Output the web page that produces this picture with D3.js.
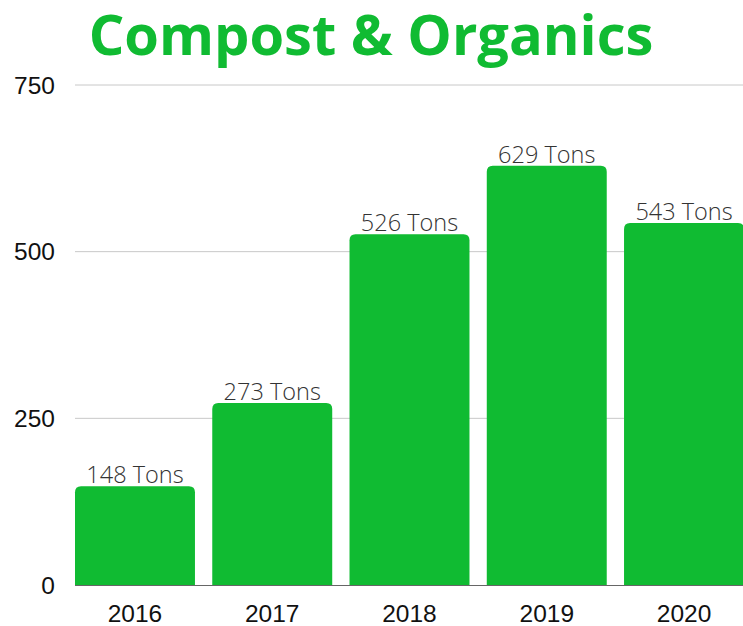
<!DOCTYPE html>
<html>
<head>
<meta charset="utf-8">
<script src="https://cdn.jsdelivr.net/npm/d3@7"></script>
<style>
  body { margin: 0; background: #fff; }
</style>
</head>
<body>
<div class="chart"></div>
<script>
var w = 743,
  h = 626,
  green = '#10bb32';

var years = ['2016', '2017', '2018', '2019', '2020'];
var tons = [148, 273, 526, 629, 543];
var yTicks = [0, 250, 500, 750];

var svg = d3.select('.chart')
  .append('svg')
  .attr('width', w)
  .attr('height', h);

var x = d3.scaleBand()
  .domain(years)
  .range([75, 744])
  .paddingInner(0.126)
  .paddingOuter(0);

var y = d3.scaleLinear()
  .domain([0, 750])
  .range([585, 85]);

// title
svg.append('text')
  .attr('x', 371)
  .attr('y', 55)
  .attr('text-anchor', 'middle')
  .style('font-family', '"Open Sans", sans-serif')
  .style('font-weight', 700)
  .style('font-size', '56px')
  .style('fill', green)
  .text('Compost & Organics');

// grid lines
svg.selectAll('line.grid')
  .data(yTicks.slice(1))
  .enter()
  .append('line')
  .attr('class', 'grid')
  .attr('x1', 75)
  .attr('x2', w)
  .attr('y1', function (d) { return y(d); })
  .attr('y2', function (d) { return y(d); })
  .style('stroke', '#c8c8c8')
  .style('stroke-width', 1);

// y axis labels
svg.selectAll('text.ytick')
  .data(yTicks)
  .enter()
  .append('text')
  .attr('class', 'ytick')
  .attr('x', 55)
  .attr('y', function (d) { return y(d); })
  .attr('dy', '0.36em')
  .attr('text-anchor', 'end')
  .style('font-family', '"Liberation Sans", Arial, sans-serif')
  .style('font-size', '24.5px')
  .style('fill', '#111')
  .text(function (d) { return d; });

// baseline
svg.append('line')
  .attr('x1', 75)
  .attr('x2', w)
  .attr('y1', y(0) + 0.5)
  .attr('y2', y(0) + 0.5)
  .style('stroke', '#666')
  .style('stroke-width', 1);

// bars with rounded top corners
var r = 6;
var barPath = function (d, i) {
  var x0 = x(years[i]), x1 = x0 + x.bandwidth(), y0 = y(0), y1 = y(d);
  return 'M' + x0 + ',' + y0 +
    'V' + (y1 + r) +
    'Q' + x0 + ',' + y1 + ' ' + (x0 + r) + ',' + y1 +
    'H' + (x1 - r) +
    'Q' + x1 + ',' + y1 + ' ' + x1 + ',' + (y1 + r) +
    'V' + y0 + 'Z';
};

svg.selectAll('path.bar')
  .data(tons)
  .enter()
  .append('path')
  .attr('class', 'bar')
  .attr('d', barPath)
  .style('fill', green);

// value labels
svg.selectAll('text.value')
  .data(tons)
  .enter()
  .append('text')
  .attr('class', 'value')
  .attr('x', function (d, i) { return x(years[i]) + x.bandwidth() / 2; })
  .attr('y', function (d) { return y(d) - 3; })
  .attr('text-anchor', 'middle')
  .style('font-family', '"Open Sans", sans-serif')
  .style('font-weight', 300)
  .style('font-size', '23.5px')
  .style('fill', '#333')
  .text(function (d) { return d + ' Tons'; });

// x axis labels
svg.selectAll('text.xtick')
  .data(years)
  .enter()
  .append('text')
  .attr('class', 'xtick')
  .attr('x', function (d) { return x(d) + x.bandwidth() / 2; })
  .attr('y', 622)
  .attr('text-anchor', 'middle')
  .style('font-family', '"Liberation Sans", Arial, sans-serif')
  .style('font-size', '24.5px')
  .style('fill', '#111')
  .text(function (d) { return d; });
</script>
</body>
</html>
